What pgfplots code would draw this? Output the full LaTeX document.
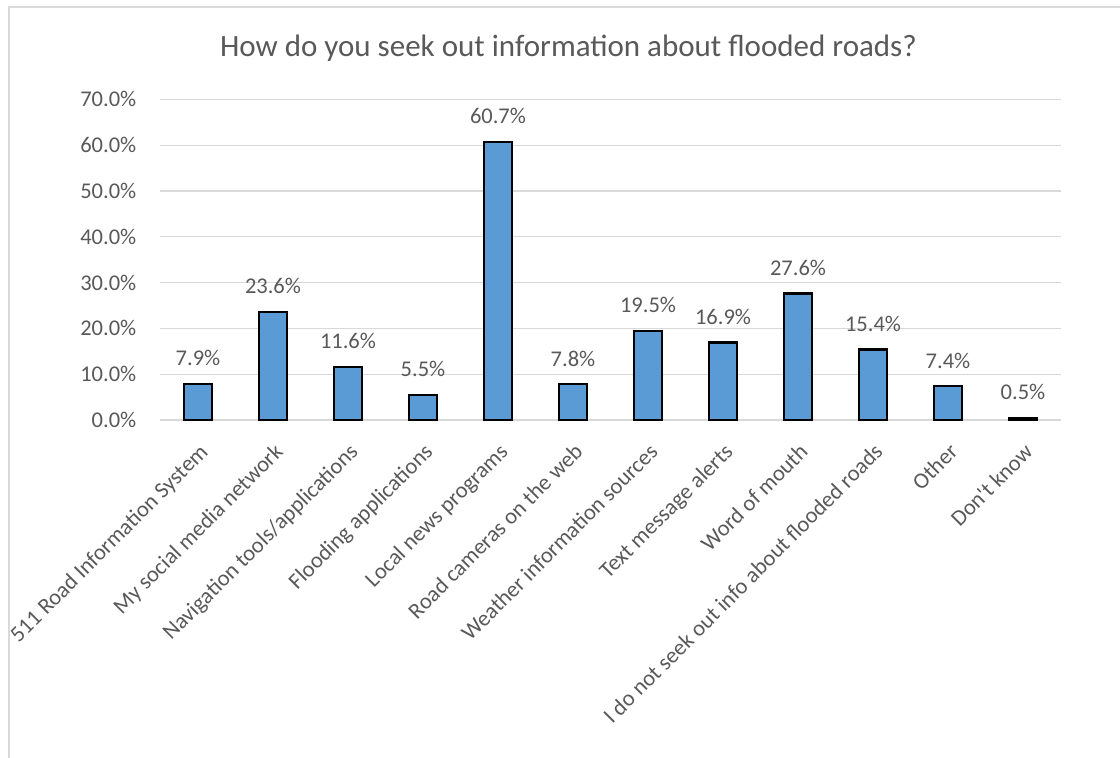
\documentclass[border=0pt]{standalone}
\usepackage{pgfplots}
\pgfplotsset{compat=1.18}
\usepackage{fontspec}
\setmainfont{Carlito}
\definecolor{barblue}{HTML}{5B9BD5}
\definecolor{txtgray}{HTML}{595959}
\definecolor{gridgray}{HTML}{D9D9D9}
\newcommand{\lblfont}{\fontsize{22.5bp}{27bp}\selectfont}

\begin{document}
\begin{tikzpicture}
  % page = 1120 x 758 bp, plot area lower left at (0,0)
  \useasboundingbox (-198bp,-338bp) rectangle (922bp,420bp);
  \clip (-198bp,-338bp) rectangle (922bp,420bp);
  \draw[gridgray, line width=1.5bp] (-189bp,-400bp) rectangle (960bp,413bp);
  \node[anchor=base, text=txtgray, font=\fontsize{31bp}{36bp}\selectfont]
    at (370.5bp,363bp) {How do you seek out information about flooded roads?};
  \begin{axis}[
      at={(0,0)}, anchor=origin,
      scale only axis,
      width=900bp, height=320.7bp,
      ybar, bar width=28.5bp,
      xmin=-0.5, xmax=11.5,
      ymin=0, ymax=70,
      axis line style={draw=none},
      major tick length=0pt,
      ymajorgrids=true,
      grid style={gridgray, line width=1.2bp},
      ytick={0,10,...,70},
      yticklabel={\pgfmathprintnumber[fixed,fixed zerofill,precision=1,assume math mode=true]{\tick}\%},
      yticklabel style={inner sep=0pt, anchor=east, xshift=-24bp, font=\lblfont, text=txtgray},
      xtick=data,
      xticklabels={511 Road Information System, My social media network,
        Navigation tools/applications, Flooding applications,
        Local news programs, Road cameras on the web,
        Weather information sources, Text message alerts,
        Word of mouth, I do not seek out info about flooded roads,
        Other, Don\textquotesingle t know},
      xticklabel style={yshift=-22bp, rotate=45, anchor=north east, inner sep=0pt,
        font=\lblfont, text=txtgray},
      nodes near coords={\pgfmathprintnumber[fixed,fixed zerofill,precision=1,assume math mode=true]{\pgfplotspointmeta}\%},
      nodes near coords style={anchor=base, inner sep=0pt, yshift=18bp,
        font=\lblfont, text=txtgray},
    ]
    \addplot[fill=barblue, draw=black, line width=2.25bp]
      coordinates {
        (0,7.9) (1,23.6) (2,11.6) (3,5.5) (4,60.7) (5,7.8)
        (6,19.5) (7,16.9) (8,27.6) (9,15.4) (10,7.4) (11,0.5)
      };
  \end{axis}
\end{tikzpicture}
\end{document}
